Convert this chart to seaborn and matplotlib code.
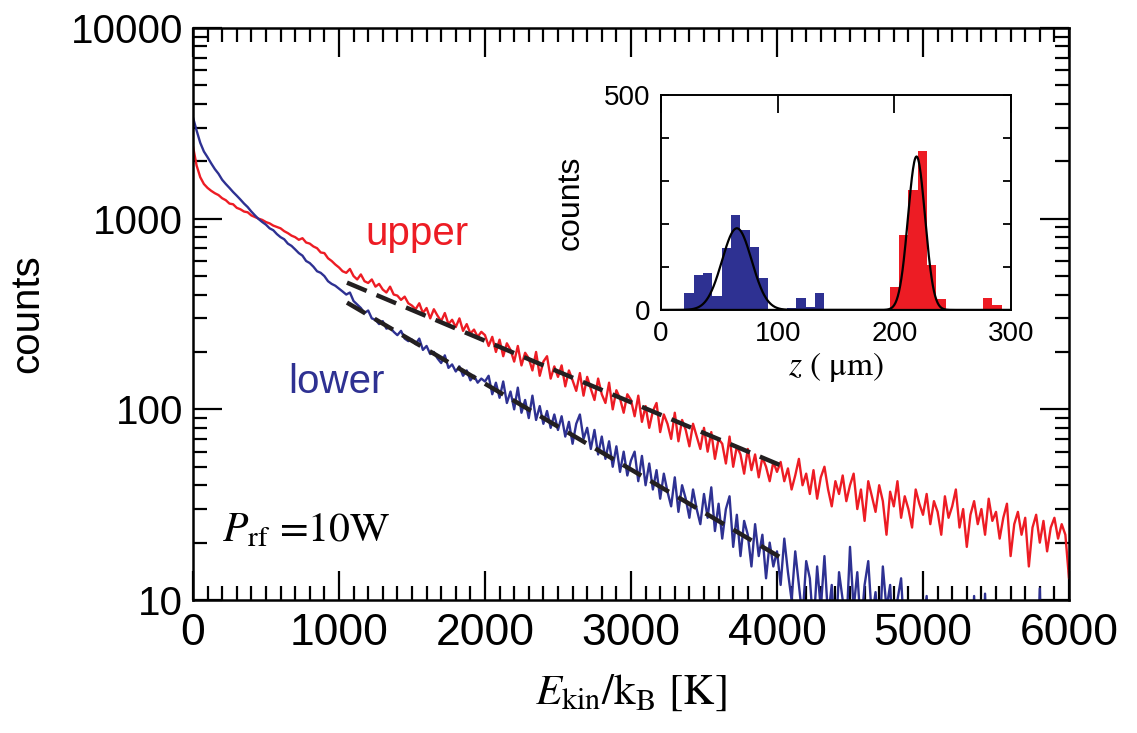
import numpy as np
import pandas as pd
import matplotlib
matplotlib.use("Agg")
import matplotlib.pyplot as plt
from matplotlib import font_manager
from matplotlib.ticker import MultipleLocator, FixedLocator, NullFormatter, FuncFormatter, LogLocator
import seaborn as sns

# ---------------- data ----------------
energy_K = np.arange(0, 6001, 25)

upper_counts = [
    2400, 1900, 1650, 1520, 1450, 1400, 1360, 1330, 1280, 1250, 1200, 1190, 1140, 1120, 1090, 1080, 1040, 1020, 1000, 985,
    960, 945, 920, 905, 890, 860, 840, 815, 800, 775, 790, 750, 740, 715, 700, 665, 660, 620, 600, 575,
    555, 530, 520, 545, 500, 480, 510, 470, 460, 480, 440, 455, 425, 410, 440, 400, 395, 375, 390, 360,
    350, 335, 360, 320, 340, 300, 335, 310, 290, 320, 280, 295, 270, 300, 258, 280, 250, 262, 240, 255,
    245, 215, 240, 200, 232, 190, 222, 205, 178, 215, 170, 198, 185, 160, 200, 150, 178, 190, 145, 168,
    148, 170, 132, 160, 142, 125, 155, 118, 148, 128, 112, 145, 120, 108, 138, 100, 126, 114, 96, 120,
    112, 92, 118, 86, 104, 80, 98, 108, 76, 94, 84, 70, 96, 68, 88, 78, 64, 84, 72, 62,
    80, 60, 76, 55, 70, 66, 52, 72, 50, 64, 58, 46, 62, 48, 58, 44, 56, 50, 42, 53,
    47, 53, 42, 49, 38, 45, 55, 40, 46, 36, 48, 34, 44, 50, 38, 31, 42, 36, 45, 33,
    40, 46, 30, 38, 26, 42, 35, 29, 40, 33, 22, 37, 31, 42, 27, 35, 30, 24, 38, 32,
    28, 36, 25, 33, 29, 22, 35, 27, 31, 38, 24, 30, 19, 28, 33, 25, 30, 22, 34, 26,
    29, 21, 27, 32, 17, 25, 29, 22, 27, 15, 24, 28, 20, 26, 18, 24, 27, 21, 25, 22,
    13,
]

lower_counts = [
    3400, 2900, 2500, 2250, 2100, 1950, 1820, 1720, 1600, 1520, 1450, 1380, 1320, 1260, 1200, 1150, 1090, 1040, 995, 960,
    930, 890, 870, 830, 800, 780, 740, 720, 690, 660, 640, 600, 585, 560, 530, 520, 500, 470, 455, 445,
    430, 415, 400, 410, 370, 355, 340, 320, 330, 300, 295, 280, 290, 265, 270, 255, 245, 258, 235, 228,
    232, 220, 235, 205, 215, 195, 200, 185, 175, 192, 165, 172, 158, 168, 150, 160, 142, 150, 138, 145,
    140, 150, 120, 138, 115, 140, 108, 124, 100, 130, 96, 112, 90, 118, 88, 104, 84, 98, 80, 94,
    78, 92, 72, 86, 66, 84, 94, 70, 80, 62, 78, 58, 72, 55, 68, 50, 64, 47, 60, 45,
    54, 60, 42, 57, 40, 52, 38, 48, 34, 46, 37, 31, 44, 29, 40, 34, 27, 38, 30, 25,
    36, 27, 39, 23, 32, 21, 30, 35, 19, 28, 17, 26, 22, 15, 25, 17, 22, 13, 20, 15,
    18, 12, 21, 14, 10, 18, 12, 8, 16, 13, 7, 15, 9, 17, 8, 12, 6, 14, 10, 7,
    19, 9, 14, 7, 12, 16, 8, 11, 6, 15, 9, 12, 5, 10, 13, 6, 9, 4, 8, 5,
    7, 10.5, 4, 6, 8, 3, 5, 2, 4, 3, 6, 2, 3, 4, 10.5, 3, 2, 10.8, 3, 2,
    3, 2, 4, 2, 3, 2, 2, 3, 2, 2, 2, 3, 11.5, 2, 2, 3, 2, 2, 2, 2,
    2,
]

upper_fit_E = [1055, 4040]
upper_fit_counts = [462, 50.3]
lower_fit_E = [1055, 4020]
lower_fit_counts = [363, 16.8]

# inset histogram (z in um), bins of 8 um
lower_z_centers = [24, 32, 40, 48, 56, 64, 72, 80, 88, 96, 104, 112, 120, 128, 136]
lower_z_counts = [39, 81, 85, 33, 145, 222, 186, 147, 75, 0, 0, 5, 27, 6, 39]
upper_z_centers = [200, 208, 216, 224, 232, 240, 248, 256, 264, 272, 280, 288]
upper_z_counts = [54, 174, 279, 370, 105, 25, 0, 0, 0, 0, 29, 11]

# Gaussian fit parameters (amplitude, centre, sigma)
lower_gauss = (190, 65, 12.7)
upper_gauss = (357, 219, 7.3)

# ---------------- style ----------------
sns.set_style("ticks")
names = {f.name for f in font_manager.fontManager.ttflist}
sans = "Liberation Sans" if "Liberation Sans" in names else "DejaVu Sans"
narrow = "Liberation Sans Narrow" if "Liberation Sans Narrow" in names else sans
plt.rcParams["font.family"] = [sans, "DejaVu Sans"]
plt.rcParams["mathtext.fontset"] = "stix"
for key in ("text.color", "axes.labelcolor", "xtick.color", "ytick.color", "axes.edgecolor"):
    plt.rcParams[key] = "black"

RED = "#ED1C24"
BLUE = "#2E3192"
FITC = "#231F20"

fig = plt.figure(figsize=(11.37, 7.33), dpi=100)
ax = fig.add_axes([0.1697, 0.1814, 0.7705, 0.7804])
ax.set_yscale("log")

df = pd.DataFrame({"E": energy_K, "upper": upper_counts, "lower": lower_counts})
sns.lineplot(data=df, x="E", y="upper", color=RED, lw=1.7, ax=ax)
sns.lineplot(data=df, x="E", y="lower", color=BLUE, lw=1.7, ax=ax)
sns.lineplot(x=upper_fit_E, y=upper_fit_counts, color=FITC, lw=3.2, ax=ax,
             dashes=False, linestyle=(0, (4.8, 2.4)))
sns.lineplot(x=lower_fit_E, y=lower_fit_counts, color=FITC, lw=3.2, ax=ax,
             dashes=False, linestyle=(0, (4.8, 2.4)))

ax.set_xlim(0, 6000)
ax.set_ylim(10, 10000)
ax.xaxis.set_major_locator(MultipleLocator(1000))
ax.xaxis.set_minor_locator(MultipleLocator(100))
ax.yaxis.set_major_locator(FixedLocator([10, 100, 1000, 10000]))
ax.yaxis.set_minor_locator(LogLocator(base=10, subs=np.arange(2, 10)))
ax.yaxis.set_major_formatter(FuncFormatter(lambda v, p: f"{int(round(v))}"))
ax.yaxis.set_minor_formatter(NullFormatter())

ax.tick_params(which="both", direction="in", top=True, right=True, width=1.6, color="black")
ax.tick_params(which="major", length=21)
ax.tick_params(which="minor", length=10)
ax.tick_params(axis="x", which="major", labelsize=32, pad=9, labelfontfamily=narrow)
ax.tick_params(axis="y", which="major", labelsize=29, pad=7)
for s in ax.spines.values():
    s.set_linewidth(1.8)
    s.set_color("black")

ax.set_xlabel(r"$E_{\rm kin}/{\rm k_B}$ [K]", fontfamily="STIXGeneral", fontsize=31, labelpad=14)
ax.set_ylabel("counts", fontsize=29)
ax.yaxis.set_label_coords(-0.168, 0.5)

ax.text(0.1963, 0.6206, "upper", transform=ax.transAxes, color=RED, fontsize=29, va="baseline")
ax.text(0.1084, 0.3619, "lower", transform=ax.transAxes, color=BLUE, fontsize=29, va="baseline")
ax.text(0.0331, 0.103, r"$P_{\rm rf}$ =10W", transform=ax.transAxes, fontfamily="STIXGeneral",
        fontsize=30, va="baseline")

# ---------------- inset ----------------
axin = fig.add_axes([0.5814, 0.5771, 0.3078, 0.2933])
lower_hist = pd.DataFrame({"z": lower_z_centers, "n": lower_z_counts})
upper_hist = pd.DataFrame({"z": upper_z_centers, "n": upper_z_counts})
sns.histplot(data=lower_hist, x="z", weights="n", binwidth=8, binrange=(20, 140),
             color=BLUE, alpha=1, ax=axin)
sns.histplot(data=upper_hist, x="z", weights="n", binwidth=8, binrange=(196, 292),
             color=RED, alpha=1, ax=axin)
for p in axin.patches:
    p.set_edgecolor("none")
    p.set_linewidth(0)

zgrid = np.linspace(0, 300, 601)
for amp, mu, sig in (lower_gauss, upper_gauss):
    sns.lineplot(x=zgrid, y=amp * np.exp(-(zgrid - mu) ** 2 / (2 * sig ** 2)),
                 color="black", lw=1.6, ax=axin)

axin.set_xlim(0, 300)
axin.set_ylim(0, 500)
axin.xaxis.set_major_locator(FixedLocator([0, 100, 200, 300]))
axin.yaxis.set_major_locator(FixedLocator([0, 100, 200, 300, 400, 500]))
axin.yaxis.set_major_formatter(FuncFormatter(lambda v, p: f"{int(v)}" if v in (0, 500) else ""))
axin.tick_params(axis="y", which="major", direction="in", left=True, right=True, length=6,
                 width=1.3, labelsize=20, pad=8)
axin.tick_params(axis="x", which="major", direction="in", bottom=False, top=True, length=13,
                 width=1.3, labelsize=20, pad=8, labelbottom=True)
for s in axin.spines.values():
    s.set_linewidth(1.4)
    s.set_color("black")
axin.set_xlabel(r"$z$ ( μm)", fontfamily="STIXGeneral", fontsize=24, labelpad=2)
axin.set_ylabel("counts", fontsize=23)
axin.yaxis.set_label_coords(-0.215, 0.5)

fig.savefig("out.png", dpi=100)
